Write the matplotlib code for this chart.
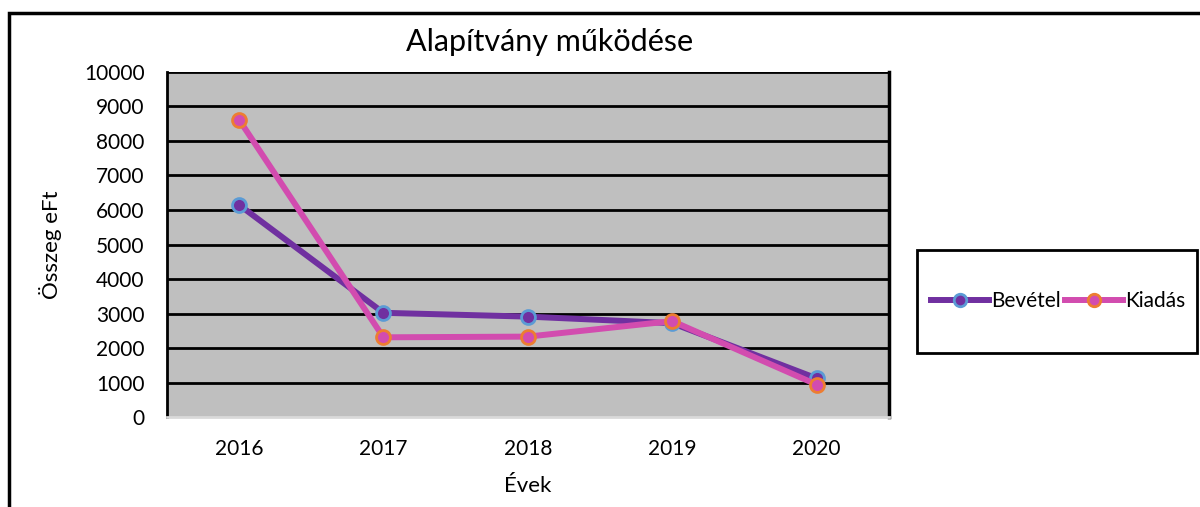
import matplotlib.pyplot as plt
from matplotlib.patches import Rectangle

# ---- data ----
years = ["2016", "2017", "2018", "2019", "2020"]
bevetel = [6150, 3020, 2910, 2720, 1120]
kiadas = [8620, 2310, 2330, 2780, 940]
y_ticks = [0, 1000, 2000, 3000, 4000, 5000, 6000, 7000, 8000, 9000, 10000]

plt.rcParams['font.family'] = ['Lato', 'DejaVu Sans']

fig = plt.figure(figsize=(12, 5.07), dpi=100)
ax = fig.add_axes([0.139, 0.1775, 0.6017, 0.6805])
ax.set_facecolor('#BFBFBF')

x = range(len(years))
ax.plot(x, bevetel, '-o', color='#7030A0', lw=4.3, ms=10, mfc='#7030A0',
        mec='#5B9BD5', mew=2, label="Bevétel", zorder=3)
ax.plot(x, kiadas, '-o', color='#D24CAF', lw=4.3, ms=10, mfc='#D24CAF',
        mec='#ED7D31', mew=2, label="Kiadás", zorder=4)

ax.set_xlim(-0.5, len(years) - 0.5)
ax.set_ylim(0, 10000)
ax.set_xticks(list(x))
ax.set_xticklabels(years)
ax.set_yticks(y_ticks)
ax.tick_params(length=0, labelsize=15)
ax.tick_params(axis='y', pad=16)
ax.tick_params(axis='x', pad=16)
for yv in y_ticks[1:]:
    ax.axhline(yv, color='black', lw=2, zorder=1)

ax.spines['left'].set_linewidth(2)
ax.spines['right'].set_linewidth(2.5)
ax.spines['top'].set_visible(False)
ax.spines['bottom'].set_color('#D9D9D9')
ax.spines['bottom'].set_linewidth(2)

fig.text(550 / 1200, 1 - 42 / 507, "Alapítvány működése", fontsize=22,
         ha='center', va='center')
ax.set_ylabel("Összeg eFt", fontsize=16, labelpad=16)
ax.set_xlabel("Évek", fontsize=16, labelpad=12)

# outer chart frame (cut off at right and bottom)
fig.patches.append(Rectangle((9 / 1200, -0.1), 1.2, 1 - 13 / 507 + 0.1,
                             transform=fig.transFigure, fill=False,
                             edgecolor='black', lw=2.5))
# legend box
fig.patches.append(Rectangle((917 / 1200, 1 - 353 / 507), 280 / 1200, 103 / 507,
                             transform=fig.transFigure, fill=False,
                             edgecolor='black', lw=2))
fig.legend(loc='center', bbox_to_anchor=(1058 / 1200, 1 - 301 / 507), ncol=2,
           frameon=False, fontsize=15, handlelength=2.8, columnspacing=0.2,
           handletextpad=0.1, markerscale=0.9)

fig.savefig("out.png", dpi=100)
